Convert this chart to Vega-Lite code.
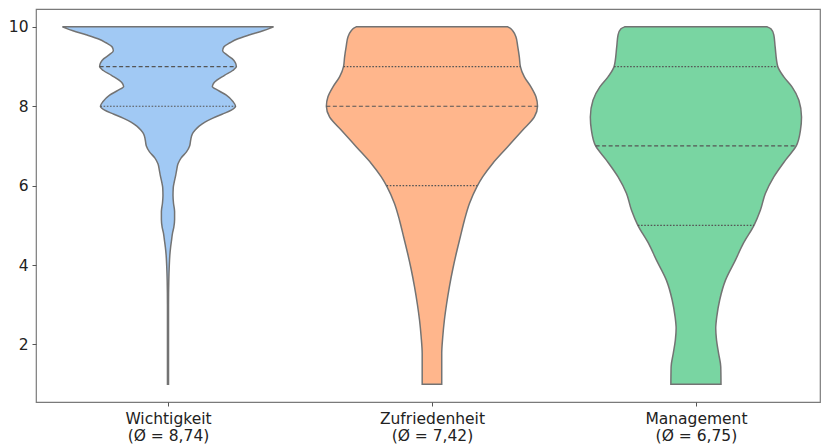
{
  "$schema": "https://vega.github.io/schema/vega-lite/v6.json",
  "width": 784,
  "height": 393,
  "autosize": {"type": "none"},
  "padding": {"left": 36, "top": 9, "right": 4, "bottom": 42},
  "background": "white",
  "config": {
    "view": {"stroke": "#7a7a7a", "strokeWidth": 1.2},
    "axis": {
      "labelFont": "DejaVu Sans",
      "labelFontSize": 15.5,
      "labelColor": "#222222",
      "tickColor": "#555555",
      "tickSize": 4,
      "domain": false,
      "grid": false,
      "title": null
    }
  },
  "datasets": {
    "outline": [
      {"group": "Wichtigkeit", "pos": 0, "score": 1.0, "w": 0.002},
      {"group": "Wichtigkeit", "pos": 0, "score": 3.0, "w": 0.002},
      {"group": "Wichtigkeit", "pos": 0, "score": 3.6, "w": 0.003},
      {"group": "Wichtigkeit", "pos": 0, "score": 4.0, "w": 0.005},
      {"group": "Wichtigkeit", "pos": 0, "score": 4.25, "w": 0.007},
      {"group": "Wichtigkeit", "pos": 0, "score": 4.45, "w": 0.01},
      {"group": "Wichtigkeit", "pos": 0, "score": 4.6, "w": 0.013},
      {"group": "Wichtigkeit", "pos": 0, "score": 4.8, "w": 0.017},
      {"group": "Wichtigkeit", "pos": 0, "score": 4.95, "w": 0.022},
      {"group": "Wichtigkeit", "pos": 0, "score": 5.15, "w": 0.025},
      {"group": "Wichtigkeit", "pos": 0, "score": 5.35, "w": 0.025},
      {"group": "Wichtigkeit", "pos": 0, "score": 5.55, "w": 0.021},
      {"group": "Wichtigkeit", "pos": 0, "score": 5.75, "w": 0.019},
      {"group": "Wichtigkeit", "pos": 0, "score": 5.95, "w": 0.02},
      {"group": "Wichtigkeit", "pos": 0, "score": 6.1, "w": 0.024},
      {"group": "Wichtigkeit", "pos": 0, "score": 6.25, "w": 0.029},
      {"group": "Wichtigkeit", "pos": 0, "score": 6.4, "w": 0.033},
      {"group": "Wichtigkeit", "pos": 0, "score": 6.55, "w": 0.038},
      {"group": "Wichtigkeit", "pos": 0, "score": 6.7, "w": 0.05},
      {"group": "Wichtigkeit", "pos": 0, "score": 6.85, "w": 0.07},
      {"group": "Wichtigkeit", "pos": 0, "score": 7.0, "w": 0.082},
      {"group": "Wichtigkeit", "pos": 0, "score": 7.15, "w": 0.086},
      {"group": "Wichtigkeit", "pos": 0, "score": 7.3, "w": 0.092},
      {"group": "Wichtigkeit", "pos": 0, "score": 7.4, "w": 0.103},
      {"group": "Wichtigkeit", "pos": 0, "score": 7.5, "w": 0.118},
      {"group": "Wichtigkeit", "pos": 0, "score": 7.6, "w": 0.14},
      {"group": "Wichtigkeit", "pos": 0, "score": 7.7, "w": 0.17},
      {"group": "Wichtigkeit", "pos": 0, "score": 7.8, "w": 0.205},
      {"group": "Wichtigkeit", "pos": 0, "score": 7.9, "w": 0.24},
      {"group": "Wichtigkeit", "pos": 0, "score": 8.0, "w": 0.256},
      {"group": "Wichtigkeit", "pos": 0, "score": 8.12, "w": 0.246},
      {"group": "Wichtigkeit", "pos": 0, "score": 8.28, "w": 0.221},
      {"group": "Wichtigkeit", "pos": 0, "score": 8.4, "w": 0.19},
      {"group": "Wichtigkeit", "pos": 0, "score": 8.5, "w": 0.168},
      {"group": "Wichtigkeit", "pos": 0, "score": 8.6, "w": 0.175},
      {"group": "Wichtigkeit", "pos": 0, "score": 8.78, "w": 0.214},
      {"group": "Wichtigkeit", "pos": 0, "score": 8.9, "w": 0.245},
      {"group": "Wichtigkeit", "pos": 0, "score": 9.0, "w": 0.259},
      {"group": "Wichtigkeit", "pos": 0, "score": 9.1, "w": 0.255},
      {"group": "Wichtigkeit", "pos": 0, "score": 9.2, "w": 0.243},
      {"group": "Wichtigkeit", "pos": 0, "score": 9.3, "w": 0.222},
      {"group": "Wichtigkeit", "pos": 0, "score": 9.4, "w": 0.207},
      {"group": "Wichtigkeit", "pos": 0, "score": 9.5, "w": 0.212},
      {"group": "Wichtigkeit", "pos": 0, "score": 9.6, "w": 0.235},
      {"group": "Wichtigkeit", "pos": 0, "score": 9.7, "w": 0.265},
      {"group": "Wichtigkeit", "pos": 0, "score": 9.8, "w": 0.31},
      {"group": "Wichtigkeit", "pos": 0, "score": 9.9, "w": 0.36},
      {"group": "Wichtigkeit", "pos": 0, "score": 10.0, "w": 0.4},

      {"group": "Zufriedenheit", "pos": 1, "score": 1.0, "w": 0.037},
      {"group": "Zufriedenheit", "pos": 1, "score": 1.77, "w": 0.037},
      {"group": "Zufriedenheit", "pos": 1, "score": 2.2, "w": 0.041},
      {"group": "Zufriedenheit", "pos": 1, "score": 2.61, "w": 0.047},
      {"group": "Zufriedenheit", "pos": 1, "score": 3.0, "w": 0.055},
      {"group": "Zufriedenheit", "pos": 1, "score": 3.45, "w": 0.066},
      {"group": "Zufriedenheit", "pos": 1, "score": 3.9, "w": 0.079},
      {"group": "Zufriedenheit", "pos": 1, "score": 4.29, "w": 0.092},
      {"group": "Zufriedenheit", "pos": 1, "score": 4.7, "w": 0.107},
      {"group": "Zufriedenheit", "pos": 1, "score": 5.13, "w": 0.123},
      {"group": "Zufriedenheit", "pos": 1, "score": 5.55, "w": 0.142},
      {"group": "Zufriedenheit", "pos": 1, "score": 5.97, "w": 0.17},
      {"group": "Zufriedenheit", "pos": 1, "score": 6.22, "w": 0.192},
      {"group": "Zufriedenheit", "pos": 1, "score": 6.56, "w": 0.23},
      {"group": "Zufriedenheit", "pos": 1, "score": 6.98, "w": 0.287},
      {"group": "Zufriedenheit", "pos": 1, "score": 7.4, "w": 0.344},
      {"group": "Zufriedenheit", "pos": 1, "score": 7.73, "w": 0.388},
      {"group": "Zufriedenheit", "pos": 1, "score": 8.0, "w": 0.4},
      {"group": "Zufriedenheit", "pos": 1, "score": 8.24, "w": 0.394},
      {"group": "Zufriedenheit", "pos": 1, "score": 8.49, "w": 0.375},
      {"group": "Zufriedenheit", "pos": 1, "score": 8.74, "w": 0.35},
      {"group": "Zufriedenheit", "pos": 1, "score": 9.0, "w": 0.335},
      {"group": "Zufriedenheit", "pos": 1, "score": 9.24, "w": 0.331},
      {"group": "Zufriedenheit", "pos": 1, "score": 9.5, "w": 0.325},
      {"group": "Zufriedenheit", "pos": 1, "score": 9.75, "w": 0.318},
      {"group": "Zufriedenheit", "pos": 1, "score": 9.9, "w": 0.306},
      {"group": "Zufriedenheit", "pos": 1, "score": 9.97, "w": 0.296},
      {"group": "Zufriedenheit", "pos": 1, "score": 10.0, "w": 0.287},

      {"group": "Management", "pos": 2, "score": 1.0, "w": 0.095},
      {"group": "Management", "pos": 2, "score": 1.44, "w": 0.094},
      {"group": "Management", "pos": 2, "score": 1.77, "w": 0.086},
      {"group": "Management", "pos": 2, "score": 2.11, "w": 0.078},
      {"group": "Management", "pos": 2, "score": 2.4, "w": 0.075},
      {"group": "Management", "pos": 2, "score": 2.7, "w": 0.079},
      {"group": "Management", "pos": 2, "score": 3.12, "w": 0.09},
      {"group": "Management", "pos": 2, "score": 3.62, "w": 0.112},
      {"group": "Management", "pos": 2, "score": 4.13, "w": 0.15},
      {"group": "Management", "pos": 2, "score": 4.55, "w": 0.18},
      {"group": "Management", "pos": 2, "score": 5.0, "w": 0.22},
      {"group": "Management", "pos": 2, "score": 5.38, "w": 0.244},
      {"group": "Management", "pos": 2, "score": 5.8, "w": 0.263},
      {"group": "Management", "pos": 2, "score": 6.22, "w": 0.295},
      {"group": "Management", "pos": 2, "score": 6.65, "w": 0.34},
      {"group": "Management", "pos": 2, "score": 7.0, "w": 0.38},
      {"group": "Management", "pos": 2, "score": 7.4, "w": 0.396},
      {"group": "Management", "pos": 2, "score": 7.73, "w": 0.4},
      {"group": "Management", "pos": 2, "score": 8.15, "w": 0.39},
      {"group": "Management", "pos": 2, "score": 8.49, "w": 0.364},
      {"group": "Management", "pos": 2, "score": 8.74, "w": 0.333},
      {"group": "Management", "pos": 2, "score": 9.0, "w": 0.31},
      {"group": "Management", "pos": 2, "score": 9.5, "w": 0.3},
      {"group": "Management", "pos": 2, "score": 9.8, "w": 0.295},
      {"group": "Management", "pos": 2, "score": 9.95, "w": 0.284},
      {"group": "Management", "pos": 2, "score": 10.0, "w": 0.27}
    ],
    "quartiles": [
      {"group": "Wichtigkeit", "pos": 0, "score": 8, "w": 0.256, "kind": "quartile"},
      {"group": "Wichtigkeit", "pos": 0, "score": 9, "w": 0.259, "kind": "median"},
      {"group": "Zufriedenheit", "pos": 1, "score": 6, "w": 0.172, "kind": "quartile"},
      {"group": "Zufriedenheit", "pos": 1, "score": 8, "w": 0.4, "kind": "median"},
      {"group": "Zufriedenheit", "pos": 1, "score": 9, "w": 0.335, "kind": "quartile"},
      {"group": "Management", "pos": 2, "score": 5, "w": 0.22, "kind": "quartile"},
      {"group": "Management", "pos": 2, "score": 7, "w": 0.38, "kind": "median"},
      {"group": "Management", "pos": 2, "score": 9, "w": 0.31, "kind": "quartile"}
    ]
  },
  "layer": [
    {
      "data": {"name": "outline"},
      "transform": [
        {"calculate": "datum.pos - datum.w", "as": "lo"},
        {"calculate": "datum.pos + datum.w", "as": "hi"}
      ],
      "mark": {"type": "area", "orient": "horizontal", "interpolate": "monotone", "stroke": "#737373", "strokeWidth": 1.5},
      "encoding": {
        "y": {
          "field": "score",
          "type": "quantitative",
          "scale": {"domain": [0.55, 10.45], "nice": false, "zero": false},
          "axis": {"values": [2, 4, 6, 8, 10], "labelPadding": 4}
        },
        "x": {
          "field": "lo",
          "type": "quantitative",
          "stack": null,
          "scale": {"domain": [-0.5, 2.47], "nice": false, "zero": false},
          "axis": {
            "values": [0, 1, 2],
            "labelPadding": 5,
            "labelLineHeight": 17,
            "labelExpr": "datum.value == 0 ? ['Wichtigkeit', '(Ø = 8,74)'] : datum.value == 1 ? ['Zufriedenheit', '(Ø = 7,42)'] : ['Management', '(Ø = 6,75)']"
          }
        },
        "x2": {"field": "hi"},
        "fill": {
          "field": "group",
          "type": "nominal",
          "scale": {"domain": ["Wichtigkeit", "Zufriedenheit", "Management"], "range": ["#a1c9f4", "#ffb68c", "#79d5a2"]},
          "legend": null
        }
      }
    },
    {
      "data": {"name": "quartiles"},
      "transform": [
        {"calculate": "datum.pos - datum.w", "as": "lo"},
        {"calculate": "datum.pos + datum.w", "as": "hi"}
      ],
      "mark": {"type": "rule", "color": "#555555", "strokeWidth": 1.2},
      "encoding": {
        "y": {"field": "score", "type": "quantitative"},
        "x": {"field": "lo", "type": "quantitative"},
        "x2": {"field": "hi"},
        "strokeDash": {
          "field": "kind",
          "type": "nominal",
          "scale": {"domain": ["median", "quartile"], "range": [[4, 2.5], [1.6, 1.6]]},
          "legend": null
        }
      }
    }
  ]
}
